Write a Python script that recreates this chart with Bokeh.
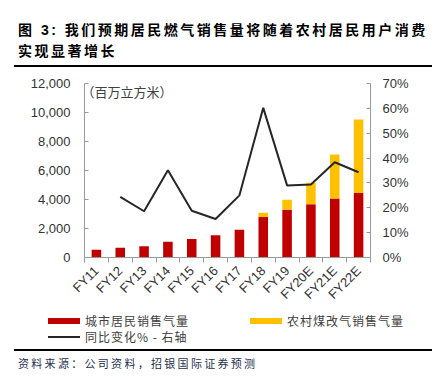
import math
from bokeh.plotting import figure
from bokeh.models import (Range1d, LinearAxis, FixedTicker, NumeralTickFormatter,
                          PrintfTickFormatter, Label, Div, ColumnDataSource)
from bokeh.layouts import column
from bokeh.embed import file_html
from bokeh.resources import INLINE

categories = ["FY11", "FY12", "FY13", "FY14", "FY15", "FY16", "FY17", "FY18",
              "FY19", "FY20E", "FY21E", "FY22E"]
urban_sales = [530, 680, 780, 1080, 1280, 1530, 1920, 2790, 3290, 3680, 4070, 4440]
rural_sales = [0, 0, 0, 0, 0, 0, 0, 290, 690, 1480, 3040, 5070]
yoy_pct = [float("nan"), 24.4, 18.6, 35.1, 18.8, 15.5, 25.0, 60.2, 29.0, 29.4, 38.3, 34.3]
left_ticks = [0, 2000, 4000, 6000, 8000, 10000, 12000]
right_ticks = [0, 10, 20, 30, 40, 50, 60, 70]

title_line1 = "图 3: 我们预期居民燃气销售量将随着农村居民用户消费"
title_line2 = "实现显著增长"
unit_text = "（百万立方米）"
legend_labels = ["城市居民销售气量", "农村煤改气销售气量", "同比变化% - 右轴"]
source_text = "资料来源：公司资料，招银国际证券预测"

RED = "#C00000"
YELLOW = "#FFC000"
LINE = "#262626"
AXIS = "#9a9a9a"
TXT = "#333333"
FONT = "Liberation Sans"
CJK = "Noto Sans CJK SC"
W = 443

xs = list(range(len(categories)))
src = ColumnDataSource(dict(x=xs, urban=urban_sales, rural=rural_sales, yoy=yoy_pct))

# ---------------- main chart ----------------
p = figure(width=W, height=242, output_backend="svg", toolbar_location=None,
           x_range=Range1d(-0.5, len(categories) - 0.5),
           y_range=Range1d(0, 12000),
           x_axis_location=None, y_axis_location=None,
           min_border_left=84, min_border_right=73, min_border_top=15,
           min_border_bottom=52, margin=0)
p.extra_y_ranges = {"pct": Range1d(0, 70)}
p.xgrid.visible = False
p.ygrid.visible = False
p.outline_line_color = None
p.background_fill_color = "white"
p.border_fill_color = "white"

bars = p.vbar_stack(["urban", "rural"], x="x", width=0.4, color=[RED, YELLOW],
                    line_color=None, source=src)
ln = p.line(x="x", y="yoy", y_range_name="pct", line_color=LINE, line_width=2,
            source=src)

xaxis = LinearAxis(ticker=FixedTicker(ticks=xs,
                                      minor_ticks=[i - 0.5 for i in range(len(categories) + 1)]),
                   major_label_overrides={i: c for i, c in enumerate(categories)})
xaxis.major_label_orientation = math.pi / 4
xaxis.axis_line_color = AXIS
xaxis.major_tick_line_color = None
xaxis.major_tick_in = 0
xaxis.major_tick_out = 0
xaxis.minor_tick_line_color = AXIS
xaxis.minor_tick_in = 0
xaxis.minor_tick_out = 5
xaxis.major_label_standoff = 6
xaxis.major_label_text_font = FONT
xaxis.major_label_text_font_size = "13px"
xaxis.major_label_text_color = TXT
p.add_layout(xaxis, "below")

yaxis = LinearAxis(ticker=FixedTicker(ticks=left_ticks),
                   formatter=NumeralTickFormatter(format="0,0"))
yaxis.axis_line_color = AXIS
yaxis.major_tick_line_color = AXIS
yaxis.major_tick_in = 4
yaxis.major_tick_out = 0
yaxis.minor_tick_line_color = None
yaxis.major_label_standoff = 14
yaxis.major_label_text_font = FONT
yaxis.major_label_text_font_size = "13px"
yaxis.major_label_text_color = TXT
p.add_layout(yaxis, "left")

raxis = LinearAxis(y_range_name="pct", ticker=FixedTicker(ticks=right_ticks),
                   formatter=PrintfTickFormatter(format="%d%%"))
raxis.axis_line_color = AXIS
raxis.major_tick_line_color = AXIS
raxis.major_tick_in = 4
raxis.major_tick_out = 0
raxis.minor_tick_line_color = None
raxis.major_label_standoff = 12
raxis.major_label_text_font = FONT
raxis.major_label_text_font_size = "13px"
raxis.major_label_text_color = TXT
p.add_layout(raxis, "right")

p.add_layout(Label(x=-0.5, y=12000, x_offset=-3, y_offset=-7.5, text=unit_text,
                   text_baseline="middle", text_font=CJK,
                   text_font_size="13px", text_color="#404040"))

# ---------------- legend (HTML key) ----------------
def swatch(left, top, w, h, color):
    return ('<div style="position:absolute;left:%dpx;top:%dpx;width:%dpx;height:%dpx;'
            'background:%s;"></div>' % (left, top, w, h, color))

def key_text(left, top, txt):
    return ('<div style="position:absolute;left:%dpx;top:%dpx;white-space:nowrap;'
            'font-family:\'Noto Sans CJK SC\',sans-serif;font-size:12px;line-height:14px;'
            'letter-spacing:1px;color:#404040;">%s</div>' % (left, top, txt))

legend_html = ('<div style="position:relative;width:443px;height:36px;">'
               + swatch(48, 8, 32, 6, RED) + key_text(85, 4, legend_labels[0])
               + swatch(250, 8, 32, 6, YELLOW) + key_text(287, 4, legend_labels[1])
               + swatch(48, 26, 32, 2, LINE) + key_text(85, 20, legend_labels[2])
               + '</div>')
legend_div = Div(width=W, height=36, margin=0, text=legend_html)

# ---------------- title / source ----------------
title_div = Div(width=W, height=68, margin=0, text=(
    '<div style="position:relative;width:443px;height:68px;">'
    '<div style="position:absolute;left:14px;top:65px;width:418px;height:0;'
    'border-top:2px solid #000;"></div>'
    '<div style="position:absolute;left:18px;top:20px;white-space:nowrap;'
    'font-family:\'Liberation Sans\',\'Noto Sans CJK SC\',sans-serif;font-weight:bold;'
    'font-size:14px;line-height:21px;letter-spacing:2.5px;color:#000;">'
    + title_line1 + '<br>' + title_line2 + '</div></div>'))

source_div = Div(width=W, height=34, margin=0, text=(
    '<div style="position:relative;width:443px;height:34px;">'
    '<div style="position:absolute;left:14px;top:3px;width:418px;height:0;'
    'border-top:2px solid #000;"></div>'
    '<div style="position:absolute;left:18px;top:9px;white-space:nowrap;'
    'font-family:\'Noto Sans CJK SC\',sans-serif;font-size:11px;line-height:16px;'
    'letter-spacing:2.3px;color:#1f3050;">' + source_text + '</div></div>'))

layout = column(title_div, p, legend_div, source_div, spacing=0)

open("out.html", "w").write(file_html(layout, INLINE))
